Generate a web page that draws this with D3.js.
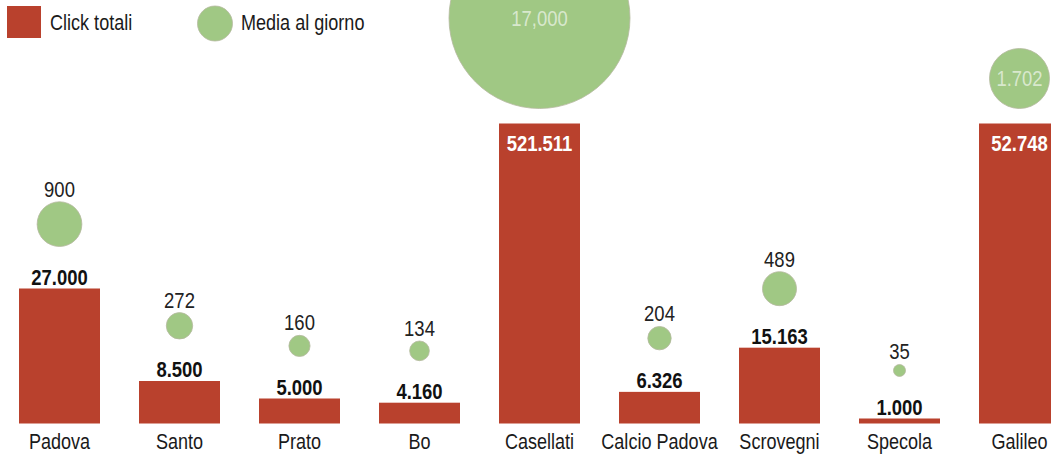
<!DOCTYPE html>
<html>
<head>
<meta charset="utf-8">
<script src="https://cdn.jsdelivr.net/npm/d3@7"></script>
<style>
  body { margin: 0; background: #fff; }
  svg { display: block; font-family: "Liberation Sans", Arial, sans-serif; }
</style>
</head>
<body>
<div id="chart"></div>
<script>
// Data
const categories = ["Padova", "Santo", "Prato", "Bo", "Casellati", "Calcio Padova", "Scrovegni", "Specola", "Galileo"];
const clicks = [27000, 8500, 5000, 4160, 521511, 6326, 15163, 1000, 52748];
const dailyAvg = [900, 272, 160, 134, 17000, 204, 489, 35, 1702];
const avgLabels = ["900", "272", "160", "134", "17,000", "204", "489", "35", "1.702"];

const width = 1051;
const height = 458;
const baseline = 423.5;

// bars above this are drawn cut at the top of the scale
const breakAbove = 50000;
const yMax = 60000;

const red = "#b9412d";
const green = "#a0c884";

// no condensed font installed, so squeeze the text horizontally
const squeeze = 0.84;
const place = (px, py) => `translate(${px},${py}) scale(${squeeze},1)`;

const svg = d3.select("#chart")
    .append("svg")
    .attr("width", width)
    .attr("height", height);

const x = d3.scaleBand()
    .domain(categories)
    .range([-0.5, 1079.5])
    .paddingInner(0.325)
    .paddingOuter(0.1625);

const y = d3.scaleLinear()
    .domain([0, yMax])
    .range([baseline, 123.5]);

const r = d3.scaleSqrt()
    .domain([0, 17000])
    .range([2, 90.5]);

const itFormat = d3.formatLocale({ decimal: ",", thousands: ".", grouping: [3], currency: ["€", ""] }).format(",d");

const rows = categories.map((c, i) => ({
    cat: c,
    value: clicks[i],
    avg: dailyAvg[i],
    avgLabel: avgLabels[i],
    cut: clicks[i] > breakAbove
}));

const cx = d => x(d.cat) + x.bandwidth() / 2;
const barTop = d => d.cut ? y(yMax) : y(d.value);

// bars
svg.selectAll("rect.bar")
    .data(rows)
    .join("rect")
    .attr("class", "bar")
    .attr("x", d => x(d.cat))
    .attr("y", d => barTop(d))
    .attr("width", x.bandwidth())
    .attr("height", d => baseline - barTop(d))
    .attr("fill", red);

// bar values
svg.selectAll("text.val")
    .data(rows)
    .join("text")
    .attr("class", "val")
    .attr("transform", d => place(cx(d), d.cut ? barTop(d) + 27 : barTop(d) - 4))
    .attr("text-anchor", "middle")
    .attr("font-weight", "bold")
    .attr("font-size", 22)
    .attr("fill", d => d.cut ? "#fff" : "#111")
    .text(d => itFormat(d.value));

// circles for the daily average
const cy = d => barTop(d) - (d.cut ? 15 : 42) - r(d.avg);

svg.selectAll("circle.avg")
    .data(rows)
    .join("circle")
    .attr("class", "avg")
    .attr("cx", d => cx(d))
    .attr("cy", d => cy(d))
    .attr("r", d => r(d.avg))
    .attr("fill", green)
    .attr("stroke", "#b5b9a0")
    .attr("stroke-width", 0.8);

svg.selectAll("text.avg")
    .data(rows)
    .join("text")
    .attr("class", "avg")
    .attr("transform", d => place(cx(d), d.cut ? cy(d) + 8 : cy(d) - r(d.avg) - 5))
    .attr("text-anchor", "middle")
    .attr("font-size", 22)
    .attr("fill", d => d.cut ? "rgba(255,255,255,0.6)" : "#222")
    .text(d => d.avgLabel);

// category labels
svg.selectAll("text.cat")
    .data(rows)
    .join("text")
    .attr("class", "cat")
    .attr("transform", d => place(cx(d), 449))
    .attr("text-anchor", "middle")
    .attr("font-size", 21.5)
    .attr("fill", "#1a1a1a")
    .text(d => d.cat);

// legend
const legend = svg.append("g");
legend.append("rect")
    .attr("x", 7).attr("y", 6)
    .attr("width", 34).attr("height", 32)
    .attr("fill", red);
legend.append("text")
    .attr("transform", place(50, 30))
    .attr("font-size", 21.5)
    .attr("fill", "#1a1a1a")
    .text("Click totali");
legend.append("circle")
    .attr("cx", 215).attr("cy", 23.5).attr("r", 17.5)
    .attr("fill", green)
    .attr("stroke", "#b5b9a0")
    .attr("stroke-width", 0.8);
legend.append("text")
    .attr("transform", place(241, 30))
    .attr("font-size", 21.5)
    .attr("fill", "#1a1a1a")
    .text("Media al giorno");
</script>
</body>
</html>
